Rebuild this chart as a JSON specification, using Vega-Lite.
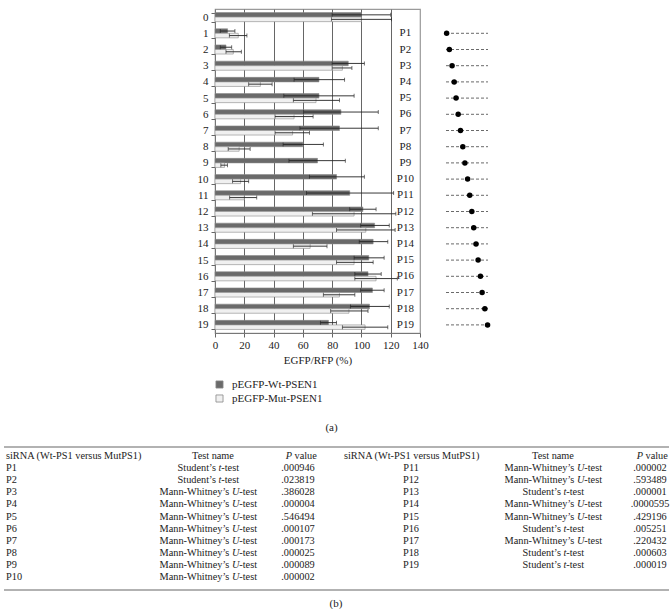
{
  "$schema": "https://vega.github.io/schema/vega-lite/v6.json",
  "background": "white",
  "padding": {"left": 3, "top": 2, "right": 3, "bottom": 0},
  "config": {
    "font": "Liberation Serif",
    "view": {"stroke": null},
    "axis": {"labelFont": "Liberation Serif", "titleFont": "Liberation Serif", "labelColor": "#222", "titleColor": "#222"},
    "axisX": {"values": [0,20,40,60,80,100,120,140], "grid": true, "gridColor": "#666", "gridWidth": 1,
      "labelFontSize": 11, "titleFontSize": 11, "titleFontWeight": "normal", "tickSize": 4, "tickColor": "#666",
      "domainColor": "#777", "labelFlush": false, "labelOverlap": false, "titlePadding": 4},
    "title": {"font": "Liberation Serif", "fontWeight": "normal", "fontSize": 11, "color": "#222"},
    "legend": {"labelFont": "Liberation Serif", "labelColor": "#222"},
    "text": {"font": "Liberation Serif", "color": "#222"}
  },
  "datasets": {
    "bars": [
      {"row": 0, "series": "pEGFP-Wt-PSEN1", "value": 100, "lo": 80, "hi": 120},
      {"row": 0, "series": "pEGFP-Mut-PSEN1", "value": 100, "lo": 79.5, "hi": 120.5},
      {"row": 1, "series": "pEGFP-Wt-PSEN1", "value": 8.6, "lo": 3.6, "hi": 13.6},
      {"row": 1, "series": "pEGFP-Mut-PSEN1", "value": 15.9, "lo": 9.8, "hi": 21.8},
      {"row": 2, "series": "pEGFP-Wt-PSEN1", "value": 7.5, "lo": 3.6, "hi": 11.4},
      {"row": 2, "series": "pEGFP-Mut-PSEN1", "value": 12.5, "lo": 7.5, "hi": 18},
      {"row": 3, "series": "pEGFP-Wt-PSEN1", "value": 91, "lo": 80, "hi": 102},
      {"row": 3, "series": "pEGFP-Mut-PSEN1", "value": 87, "lo": 80, "hi": 93.5},
      {"row": 4, "series": "pEGFP-Wt-PSEN1", "value": 71, "lo": 54, "hi": 88.5},
      {"row": 4, "series": "pEGFP-Mut-PSEN1", "value": 31, "lo": 23, "hi": 39},
      {"row": 5, "series": "pEGFP-Wt-PSEN1", "value": 71, "lo": 47, "hi": 95},
      {"row": 5, "series": "pEGFP-Mut-PSEN1", "value": 69, "lo": 53.5, "hi": 85},
      {"row": 6, "series": "pEGFP-Wt-PSEN1", "value": 86, "lo": 60.5, "hi": 111.5},
      {"row": 6, "series": "pEGFP-Mut-PSEN1", "value": 54, "lo": 41, "hi": 67},
      {"row": 7, "series": "pEGFP-Wt-PSEN1", "value": 85, "lo": 58, "hi": 111.5},
      {"row": 7, "series": "pEGFP-Mut-PSEN1", "value": 53, "lo": 41, "hi": 64.5},
      {"row": 8, "series": "pEGFP-Wt-PSEN1", "value": 60, "lo": 46.5, "hi": 74},
      {"row": 8, "series": "pEGFP-Mut-PSEN1", "value": 16.5, "lo": 9, "hi": 24},
      {"row": 9, "series": "pEGFP-Wt-PSEN1", "value": 70, "lo": 50.5, "hi": 89},
      {"row": 9, "series": "pEGFP-Mut-PSEN1", "value": 6.5, "lo": 4, "hi": 8.5},
      {"row": 10, "series": "pEGFP-Wt-PSEN1", "value": 83, "lo": 64.5, "hi": 102},
      {"row": 10, "series": "pEGFP-Mut-PSEN1", "value": 17.5, "lo": 12, "hi": 23},
      {"row": 11, "series": "pEGFP-Wt-PSEN1", "value": 92, "lo": 62.5, "hi": 122},
      {"row": 11, "series": "pEGFP-Mut-PSEN1", "value": 20, "lo": 10, "hi": 28.5},
      {"row": 12, "series": "pEGFP-Wt-PSEN1", "value": 101, "lo": 92, "hi": 110},
      {"row": 12, "series": "pEGFP-Mut-PSEN1", "value": 95, "lo": 66.5, "hi": 123.5},
      {"row": 13, "series": "pEGFP-Wt-PSEN1", "value": 109, "lo": 99.5, "hi": 119},
      {"row": 13, "series": "pEGFP-Mut-PSEN1", "value": 103, "lo": 83, "hi": 123},
      {"row": 14, "series": "pEGFP-Wt-PSEN1", "value": 108, "lo": 98.5, "hi": 118},
      {"row": 14, "series": "pEGFP-Mut-PSEN1", "value": 65, "lo": 53.5, "hi": 76.5},
      {"row": 15, "series": "pEGFP-Wt-PSEN1", "value": 105, "lo": 95, "hi": 115.5},
      {"row": 15, "series": "pEGFP-Mut-PSEN1", "value": 95, "lo": 83, "hi": 108},
      {"row": 16, "series": "pEGFP-Wt-PSEN1", "value": 104.5, "lo": 95.5, "hi": 113.5},
      {"row": 16, "series": "pEGFP-Mut-PSEN1", "value": 110, "lo": 95.5, "hi": 124.5},
      {"row": 17, "series": "pEGFP-Wt-PSEN1", "value": 107.5, "lo": 99.5, "hi": 115.5},
      {"row": 17, "series": "pEGFP-Mut-PSEN1", "value": 85, "lo": 74, "hi": 95.5},
      {"row": 18, "series": "pEGFP-Wt-PSEN1", "value": 105.5, "lo": 92.5, "hi": 119},
      {"row": 18, "series": "pEGFP-Mut-PSEN1", "value": 91.5, "lo": 79, "hi": 104.5},
      {"row": 19, "series": "pEGFP-Wt-PSEN1", "value": 77.5, "lo": 72, "hi": 83},
      {"row": 19, "series": "pEGFP-Mut-PSEN1", "value": 102.5, "lo": 87, "hi": 118}
    ],
    "sirna": [
      {"row": 1, "label": "P1", "pos": 1.5},
      {"row": 2, "label": "P2", "pos": 8},
      {"row": 3, "label": "P3", "pos": 14.5},
      {"row": 4, "label": "P4", "pos": 19.5},
      {"row": 5, "label": "P5", "pos": 24},
      {"row": 6, "label": "P6", "pos": 29},
      {"row": 7, "label": "P7", "pos": 34.5},
      {"row": 8, "label": "P8", "pos": 40},
      {"row": 9, "label": "P9", "pos": 45},
      {"row": 10, "label": "P10", "pos": 51.5},
      {"row": 11, "label": "P11", "pos": 56.5},
      {"row": 12, "label": "P12", "pos": 61.5},
      {"row": 13, "label": "P13", "pos": 66},
      {"row": 14, "label": "P14", "pos": 71.5},
      {"row": 15, "label": "P15", "pos": 76.5},
      {"row": 16, "label": "P16", "pos": 82},
      {"row": 17, "label": "P17", "pos": 86},
      {"row": 18, "label": "P18", "pos": 92.5},
      {"row": 19, "label": "P19", "pos": 99}
    ],
    "table": [
      {"half": "L", "row": 1, "sirna": "P1", "test": "Student", "p": ".000946"},
      {"half": "L", "row": 2, "sirna": "P2", "test": "Student", "p": ".023819"},
      {"half": "L", "row": 3, "sirna": "P3", "test": "Mann", "p": ".386028"},
      {"half": "L", "row": 4, "sirna": "P4", "test": "Mann", "p": ".000004"},
      {"half": "L", "row": 5, "sirna": "P5", "test": "Mann", "p": ".546494"},
      {"half": "L", "row": 6, "sirna": "P6", "test": "Mann", "p": ".000107"},
      {"half": "L", "row": 7, "sirna": "P7", "test": "Mann", "p": ".000173"},
      {"half": "L", "row": 8, "sirna": "P8", "test": "Mann", "p": ".000025"},
      {"half": "L", "row": 9, "sirna": "P9", "test": "Mann", "p": ".000089"},
      {"half": "L", "row": 10, "sirna": "P10", "test": "Mann", "p": ".000002"},
      {"half": "R", "row": 1, "sirna": "P11", "test": "Mann", "p": ".000002"},
      {"half": "R", "row": 2, "sirna": "P12", "test": "Mann", "p": ".593489"},
      {"half": "R", "row": 3, "sirna": "P13", "test": "Student", "p": ".000001"},
      {"half": "R", "row": 4, "sirna": "P14", "test": "Mann", "p": ".0000595"},
      {"half": "R", "row": 5, "sirna": "P15", "test": "Mann", "p": ".429196"},
      {"half": "R", "row": 6, "sirna": "P16", "test": "Student", "p": ".005251"},
      {"half": "R", "row": 7, "sirna": "P17", "test": "Mann", "p": ".220432"},
      {"half": "R", "row": 8, "sirna": "P18", "test": "Student", "p": ".000603"},
      {"half": "R", "row": 9, "sirna": "P19", "test": "Student", "p": ".000019"}
    ],
    "headers": [
      {"row": 0, "label": "siRNA (Wt-PS1 versus MutPS1)", "col": "sirnaL"},
      {"row": 0, "label": "siRNA (Wt-PS1 versus MutPS1)", "col": "sirnaR"},
      {"row": 0, "label": "Test name", "col": "testL"},
      {"row": 0, "label": "Test name", "col": "testR"}
    ],
    "edges": [
      {"row": -0.75},
      {"row": 11.07}
    ]
  },
  "spacing": 12,
  "vconcat": [
    {
      "spacing": 14,
      "hconcat": [
        {
          "width": 205,
          "height": 324,
          "title": {"text": "(a)", "orient": "bottom", "anchor": "middle", "frame": "group", "dx": 14, "offset": 57},
          "view": {"stroke": "#9a9a9a", "strokeWidth": 1.2},
          "encoding": {
            "x": {"type": "quantitative", "title": "EGFP/RFP (%)",
              "scale": {"domain": [0, 140], "nice": false},
              "axis": {"values": [0,20,40,60,80,100,120,140], "grid": true,
                "gridOpacity": {"condition": {"test": "datum.value === 0 || datum.value === 140", "value": 0}, "value": 1}}},
            "y": {"field": "row", "type": "ordinal",
              "scale": {"domain": [0,1,2,3,4,5,6,7,8,9,10,11,12,13,14,15,16,17,18,19], "paddingInner": 0.44, "paddingOuter": 0.22},
              "axis": {"title": null, "tickBand": "extent", "labelFontSize": 11, "labelPadding": 3, "tickSize": 4, "tickColor": "#666", "domainColor": "#777", "labelAngle": 0, "minExtent": 211}}
          },
          "layer": [
            {
              "data": {"name": "bars"},
              "mark": {"type": "bar", "stroke": "#8a8a8a", "strokeWidth": 0.6},
              "encoding": {
                "x": {"field": "value", "type": "quantitative", "title": "EGFP/RFP (%)",
                  "scale": {"domain": [0, 140], "nice": false},
                  "axis": {"values": [0,20,40,60,80,100,120,140], "grid": true,
                    "gridOpacity": {"condition": {"test": "datum.value === 0 || datum.value === 140", "value": 0}, "value": 1}}},
                "yOffset": {"field": "series", "type": "nominal",
                  "scale": {"domain": ["pEGFP-Wt-PSEN1", "pEGFP-Mut-PSEN1"], "paddingInner": 0, "paddingOuter": 0}},
                "color": {"field": "series", "type": "nominal",
                  "scale": {"domain": ["pEGFP-Wt-PSEN1", "pEGFP-Mut-PSEN1"], "range": ["#6a6a6a", "#f0f0f0"]},
                  "legend": {"orient": "none", "legendX": -1, "legendY": 370, "title": null, "direction": "vertical",
                    "symbolType": "square", "symbolSize": 50, "symbolStrokeColor": "#888", "symbolStrokeWidth": 0.8,
                    "labelFontSize": 11, "rowPadding": 2, "labelOffset": 7}}
              }
            },
            {
              "data": {"name": "bars"},
              "mark": {"type": "rule", "color": "#222", "strokeWidth": 0.9},
              "encoding": {
                "yOffset": {"field": "series", "type": "nominal"},
                "x": {"field": "lo", "type": "quantitative", "title": "EGFP/RFP (%)",
                  "axis": {"values": [0,20,40,60,80,100,120,140], "grid": true,
                    "gridOpacity": {"condition": {"test": "datum.value === 0 || datum.value === 140", "value": 0}, "value": 1}}},
                "x2": {"field": "hi"}
              }
            },
            {
              "data": {"name": "bars"},
              "mark": {"type": "tick", "color": "#222", "thickness": 0.9, "size": 4},
              "encoding": {
                "yOffset": {"field": "series", "type": "nominal"},
                "x": {"field": "lo", "type": "quantitative", "title": "EGFP/RFP (%)",
                  "axis": {"values": [0,20,40,60,80,100,120,140], "grid": true,
                    "gridOpacity": {"condition": {"test": "datum.value === 0 || datum.value === 140", "value": 0}, "value": 1}}}
              }
            },
            {
              "data": {"name": "bars"},
              "mark": {"type": "tick", "color": "#222", "thickness": 0.9, "size": 4},
              "encoding": {
                "yOffset": {"field": "series", "type": "nominal"},
                "x": {"field": "hi", "type": "quantitative", "title": "EGFP/RFP (%)",
                  "axis": {"values": [0,20,40,60,80,100,120,140], "grid": true,
                    "gridOpacity": {"condition": {"test": "datum.value === 0 || datum.value === 140", "value": 0}, "value": 1}}}
              }
            },
            {
              "data": {"name": "sirna"},
              "mark": {"type": "text", "fontSize": 11, "align": "center", "baseline": "middle"},
              "encoding": {
                "x": {"datum": 130, "type": "quantitative", "title": "EGFP/RFP (%)",
                  "axis": {"values": [0,20,40,60,80,100,120,140], "grid": true,
                    "gridOpacity": {"condition": {"test": "datum.value === 0 || datum.value === 140", "value": 0}, "value": 1}}},
                "text": {"field": "label"}
              }
            }
          ]
        },
        {
          "width": 42,
          "height": 324,
          "data": {"name": "sirna"},
          "layer": [
            {
              "mark": {"type": "rule", "color": "#444", "strokeDash": [3, 2], "strokeWidth": 0.8},
              "encoding": {
                "y": {"field": "row", "type": "ordinal",
                  "scale": {"domain": [0,1,2,3,4,5,6,7,8,9,10,11,12,13,14,15,16,17,18,19], "paddingInner": 0.44, "paddingOuter": 0.22},
                  "axis": null},
                "x": {"datum": 0, "type": "quantitative", "scale": {"domain": [0, 100], "nice": false, "zero": false}, "axis": null},
                "x2": {"datum": 100}
              }
            },
            {
              "mark": {"type": "point", "filled": true, "color": "black", "size": 30, "opacity": 1},
              "encoding": {
                "y": {"field": "row", "type": "ordinal"},
                "x": {"field": "pos", "type": "quantitative"}
              }
            }
          ]
        }
      ]
    },
    {
      "width": 454,
      "height": 143,
      "title": {"text": "(b)", "orient": "bottom", "anchor": "middle", "frame": "group", "dx": -106, "offset": 7},
      "layer": [
        {
          "data": {"name": "edges"},
          "mark": {"type": "rule", "color": "#999", "strokeWidth": 1.5},
          "encoding": {
            "y": {"field": "row", "type": "quantitative", "scale": {"domain": [-0.75, 11.07], "reverse": true, "nice": false, "zero": false}, "axis": null},
            "x": {"datum": 0, "type": "quantitative", "scale": {"domain": [211, 665], "nice": false, "zero": false}, "axis": null},
            "x2": {"datum": 665}
          }
        },
        {
          "data": {"name": "headers"},
          "transform": [{"filter": "datum.col === 'sirnaL'"}],
          "mark": {"type": "text", "fontSize": 10.3, "align": "left", "baseline": "middle"},
          "encoding": {"y": {"field": "row", "type": "quantitative"}, "x": {"datum": 2, "type": "quantitative"}, "text": {"field": "label"}}
        },
        {
          "data": {"name": "headers"},
          "transform": [{"filter": "datum.col === 'sirnaR'"}],
          "mark": {"type": "text", "fontSize": 10.3, "align": "left", "baseline": "middle"},
          "encoding": {"y": {"field": "row", "type": "quantitative"}, "x": {"datum": 340, "type": "quantitative"}, "text": {"field": "label"}}
        },
        {
          "data": {"name": "headers"},
          "transform": [{"filter": "datum.col === 'testL'"}],
          "mark": {"type": "text", "fontSize": 10.3, "align": "center", "baseline": "middle"},
          "encoding": {"y": {"field": "row", "type": "quantitative"}, "x": {"datum": 209, "type": "quantitative"}, "text": {"field": "label"}}
        },
        {
          "data": {"name": "headers"},
          "transform": [{"filter": "datum.col === 'testR'"}],
          "mark": {"type": "text", "fontSize": 10.3, "align": "center", "baseline": "middle"},
          "encoding": {"y": {"field": "row", "type": "quantitative"}, "x": {"datum": 549, "type": "quantitative"}, "text": {"field": "label"}}
        },
        {
          "data": {"name": "headers"},
          "transform": [{"filter": "datum.col === 'testL'"}],
          "mark": {"type": "text", "fontSize": 10.3, "align": "right", "baseline": "middle", "fontStyle": "italic", "text": "P"},
          "encoding": {"y": {"field": "row", "type": "quantitative"}, "x": {"datum": 288, "type": "quantitative"}}
        },
        {
          "data": {"name": "headers"},
          "transform": [{"filter": "datum.col === 'testL'"}],
          "mark": {"type": "text", "fontSize": 10.3, "align": "left", "baseline": "middle", "text": "value"},
          "encoding": {"y": {"field": "row", "type": "quantitative"}, "x": {"datum": 290.5, "type": "quantitative"}}
        },
        {
          "data": {"name": "headers"},
          "transform": [{"filter": "datum.col === 'testR'"}],
          "mark": {"type": "text", "fontSize": 10.3, "align": "right", "baseline": "middle", "fontStyle": "italic", "text": "P"},
          "encoding": {"y": {"field": "row", "type": "quantitative"}, "x": {"datum": 639, "type": "quantitative"}}
        },
        {
          "data": {"name": "headers"},
          "transform": [{"filter": "datum.col === 'testR'"}],
          "mark": {"type": "text", "fontSize": 10.3, "align": "left", "baseline": "middle", "text": "value"},
          "encoding": {"y": {"field": "row", "type": "quantitative"}, "x": {"datum": 641.5, "type": "quantitative"}}
        },
        {
          "data": {"name": "table"},
          "transform": [{"filter": "datum.half === 'L'"}],
          "mark": {"type": "text", "fontSize": 10.3, "align": "left", "baseline": "middle"},
          "encoding": {"y": {"field": "row", "type": "quantitative"}, "x": {"datum": 2, "type": "quantitative"}, "text": {"field": "sirna"}}
        },
        {
          "data": {"name": "table"},
          "transform": [{"filter": "datum.half === 'R'"}],
          "mark": {"type": "text", "fontSize": 10.3, "align": "center", "baseline": "middle"},
          "encoding": {"y": {"field": "row", "type": "quantitative"}, "x": {"datum": 407, "type": "quantitative"}, "text": {"field": "sirna"}}
        },
        {
          "data": {"name": "table"},
          "transform": [{"filter": "datum.half === 'L'"}],
          "mark": {"type": "text", "fontSize": 10.3, "align": "center", "baseline": "middle"},
          "encoding": {"y": {"field": "row", "type": "quantitative"}, "x": {"datum": 294, "type": "quantitative"}, "text": {"field": "p"}}
        },
        {
          "data": {"name": "table"},
          "transform": [{"filter": "datum.half === 'R'"}],
          "mark": {"type": "text", "fontSize": 10.3, "align": "center", "baseline": "middle"},
          "encoding": {"y": {"field": "row", "type": "quantitative"}, "x": {"datum": 646, "type": "quantitative"}, "text": {"field": "p"}}
        },
        {
          "data": {"name": "table"},
          "transform": [{"filter": "datum.half === 'L' && datum.test === 'Student'"}],
          "mark": {"type": "text", "fontSize": 10.3, "align": "right", "baseline": "middle", "text": "Student’s"},
          "encoding": {"y": {"field": "row", "type": "quantitative"}, "x": {"datum": 211.9, "type": "quantitative"}}
        },
        {
          "data": {"name": "table"},
          "transform": [{"filter": "datum.half === 'L' && datum.test === 'Student'"}],
          "mark": {"type": "text", "fontSize": 10.3, "align": "left", "baseline": "middle", "fontStyle": "italic", "text": "t"},
          "encoding": {"y": {"field": "row", "type": "quantitative"}, "x": {"datum": 214.5, "type": "quantitative"}}
        },
        {
          "data": {"name": "table"},
          "transform": [{"filter": "datum.half === 'L' && datum.test === 'Student'"}],
          "mark": {"type": "text", "fontSize": 10.3, "align": "left", "baseline": "middle", "text": "-test"},
          "encoding": {"y": {"field": "row", "type": "quantitative"}, "x": {"datum": 217.3, "type": "quantitative"}}
        },
        {
          "data": {"name": "table"},
          "transform": [{"filter": "datum.half === 'L' && datum.test === 'Mann'"}],
          "mark": {"type": "text", "fontSize": 10.3, "align": "right", "baseline": "middle", "text": "Mann-Whitney’s"},
          "encoding": {"y": {"field": "row", "type": "quantitative"}, "x": {"datum": 225.3, "type": "quantitative"}}
        },
        {
          "data": {"name": "table"},
          "transform": [{"filter": "datum.half === 'L' && datum.test === 'Mann'"}],
          "mark": {"type": "text", "fontSize": 10.3, "align": "left", "baseline": "middle", "fontStyle": "italic", "text": "U"},
          "encoding": {"y": {"field": "row", "type": "quantitative"}, "x": {"datum": 227.9, "type": "quantitative"}}
        },
        {
          "data": {"name": "table"},
          "transform": [{"filter": "datum.half === 'L' && datum.test === 'Mann'"}],
          "mark": {"type": "text", "fontSize": 10.3, "align": "left", "baseline": "middle", "text": "-test"},
          "encoding": {"y": {"field": "row", "type": "quantitative"}, "x": {"datum": 235.3, "type": "quantitative"}}
        },
        {
          "data": {"name": "table"},
          "transform": [{"filter": "datum.half === 'R' && datum.test === 'Student'"}],
          "mark": {"type": "text", "fontSize": 10.3, "align": "right", "baseline": "middle", "text": "Student’s"},
          "encoding": {"y": {"field": "row", "type": "quantitative"}, "x": {"datum": 556.9, "type": "quantitative"}}
        },
        {
          "data": {"name": "table"},
          "transform": [{"filter": "datum.half === 'R' && datum.test === 'Student'"}],
          "mark": {"type": "text", "fontSize": 10.3, "align": "left", "baseline": "middle", "fontStyle": "italic", "text": "t"},
          "encoding": {"y": {"field": "row", "type": "quantitative"}, "x": {"datum": 559.5, "type": "quantitative"}}
        },
        {
          "data": {"name": "table"},
          "transform": [{"filter": "datum.half === 'R' && datum.test === 'Student'"}],
          "mark": {"type": "text", "fontSize": 10.3, "align": "left", "baseline": "middle", "text": "-test"},
          "encoding": {"y": {"field": "row", "type": "quantitative"}, "x": {"datum": 562.3, "type": "quantitative"}}
        },
        {
          "data": {"name": "table"},
          "transform": [{"filter": "datum.half === 'R' && datum.test === 'Mann'"}],
          "mark": {"type": "text", "fontSize": 10.3, "align": "right", "baseline": "middle", "text": "Mann-Whitney’s"},
          "encoding": {"y": {"field": "row", "type": "quantitative"}, "x": {"datum": 570.3, "type": "quantitative"}}
        },
        {
          "data": {"name": "table"},
          "transform": [{"filter": "datum.half === 'R' && datum.test === 'Mann'"}],
          "mark": {"type": "text", "fontSize": 10.3, "align": "left", "baseline": "middle", "fontStyle": "italic", "text": "U"},
          "encoding": {"y": {"field": "row", "type": "quantitative"}, "x": {"datum": 572.9, "type": "quantitative"}}
        },
        {
          "data": {"name": "table"},
          "transform": [{"filter": "datum.half === 'R' && datum.test === 'Mann'"}],
          "mark": {"type": "text", "fontSize": 10.3, "align": "left", "baseline": "middle", "text": "-test"},
          "encoding": {"y": {"field": "row", "type": "quantitative"}, "x": {"datum": 580.3, "type": "quantitative"}}
        }
      ]
    }
  ]
}
